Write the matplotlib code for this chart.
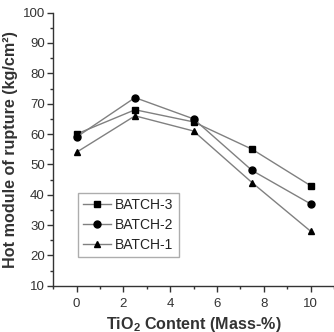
import matplotlib
matplotlib.use('Agg')
import matplotlib.pyplot as plt
from matplotlib.ticker import MultipleLocator

plt.rcParams.update({'font.family': 'Liberation Sans',
                     'mathtext.fontset': 'custom',
                     'mathtext.rm': 'Liberation Sans',
                     'mathtext.bf': 'Liberation Sans:bold'})

# 数据
tio2 = [0, 2.5, 5, 7.5, 10]
batch3 = [60, 68, 64, 55, 43]
batch2 = [59, 72, 65, 48, 37]
batch1 = [54, 66, 61, 44, 28]
labels = ['BATCH-3', 'BATCH-2', 'BATCH-1']

fig = plt.figure(figsize=(3.34, 3.32), dpi=100)
ax = fig.add_axes([0.159, 0.139, 0.841, 0.823])

line_kw = dict(color='#808080', lw=1.0, markerfacecolor='black', markeredgecolor='black', markersize=5)
ax.plot(tio2, batch3, marker='s', label=labels[0], **line_kw)
ax.plot(tio2, batch2, marker='o', label=labels[1], **line_kw)
ax.plot(tio2, batch1, marker='^', label=labels[2], **line_kw)

ax.set_xlim(-1, 11)
ax.set_ylim(10, 100)
ax.xaxis.set_major_locator(MultipleLocator(2))
ax.xaxis.set_minor_locator(MultipleLocator(1))
ax.yaxis.set_major_locator(MultipleLocator(10))
ax.yaxis.set_minor_locator(MultipleLocator(5))

for side in ['top', 'right']:
    ax.spines[side].set_visible(False)
for side in ['left', 'bottom']:
    ax.spines[side].set_color('#333333')
    ax.spines[side].set_linewidth(1.0)

ax.tick_params(which='major', direction='out', length=4, width=1, colors='#333333', labelsize=9.5,
               labelcolor='#333333')
ax.tick_params(axis='y', which='major', pad=2)
ax.tick_params(axis='x', which='major', pad=5)
ax.tick_params(which='minor', direction='out', length=2.5, width=1, colors='#333333')

ax.set_xlabel('TiO$_\\mathbf{2}$ Content (Mass-%)', fontsize=11.6, fontweight='bold', color='#333333',
              labelpad=3)
ax.set_ylabel('Hot module of rupture (kg/cm²)', fontsize=11.6, fontweight='bold', color='#333333',
              labelpad=3)

leg = ax.legend(loc='lower left', bbox_to_anchor=(0.09, 0.106), fontsize=10, frameon=True, fancybox=False,
                handlelength=2.0, handletextpad=0.3, labelspacing=0.45, borderpad=0.35, borderaxespad=0)
leg.get_frame().set_edgecolor('#999999')
leg.get_frame().set_linewidth(1.0)
for t in leg.get_texts():
    t.set_color('#222222')

plt.savefig('out.png', dpi=100)
